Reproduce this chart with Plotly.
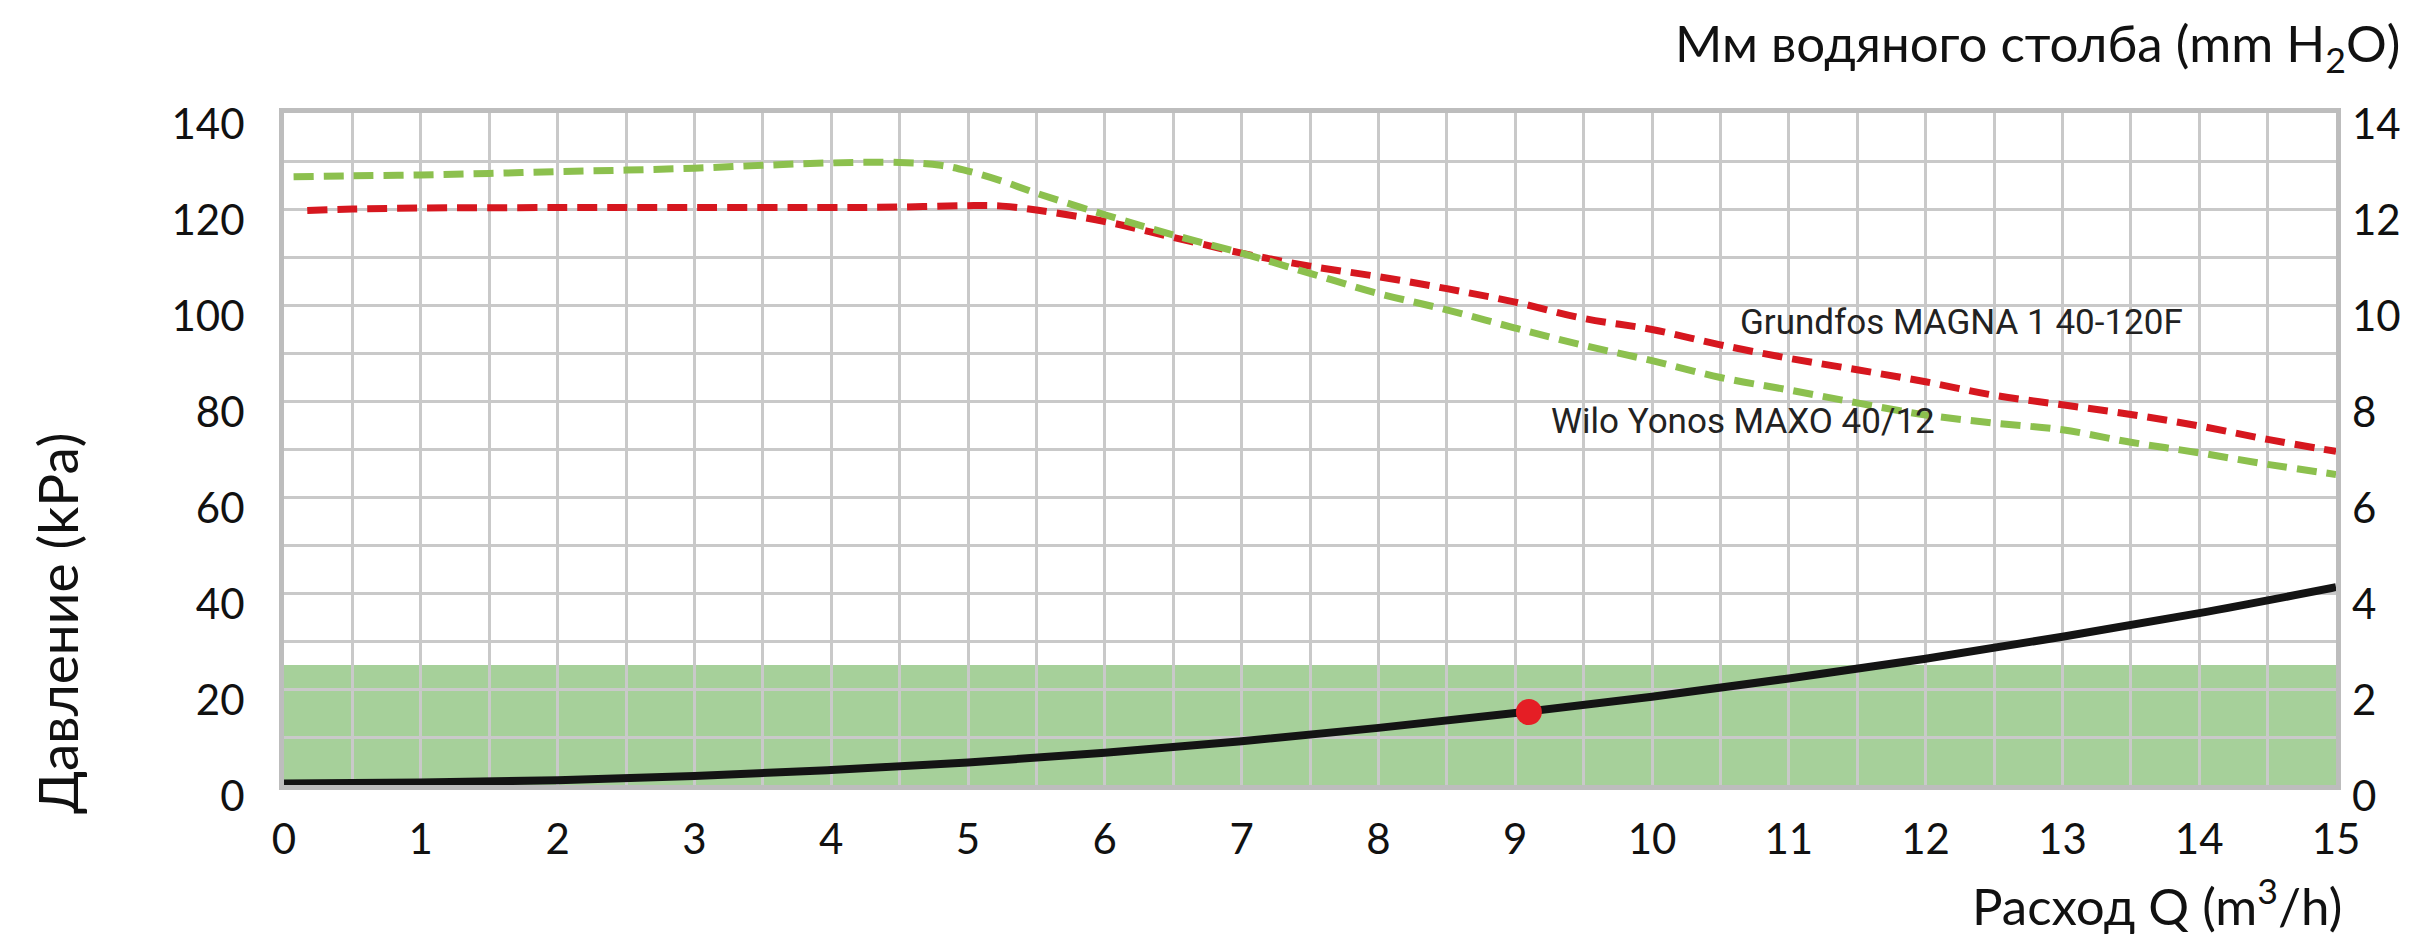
import plotly.graph_objects as go

# ---------------- data ----------------
flow_ticks = list(range(0, 16))
kpa_ticks = [0, 20, 40, 60, 80, 100, 120, 140]
mm_ticks = [0, 2, 4, 6, 8, 10, 12, 14]

flow_wilo = [0.07, 0.5, 1.0, 1.5, 2.0, 2.5, 3.0, 3.5, 4.0, 4.5, 4.8, 5.0, 5.25, 5.5,
             6.0, 6.5, 7.0, 7.5, 8.0, 8.5, 9.0, 9.5, 10.0, 10.5, 11.0, 11.5, 12.0,
             12.5, 13.0, 13.5, 14.0, 14.5, 15.0]
head_wilo = [126.7, 126.9, 127.1, 127.4, 127.8, 128.1, 128.5, 129.1, 129.6, 129.7, 129.1,
             127.9, 125.8, 123.3, 118.8, 114.6, 110.8, 106.6, 102.4, 99.0, 95.2, 91.6,
             88.4, 84.9, 82.3, 79.6, 77.1, 75.4, 74.0, 71.4, 69.2, 66.8, 64.7]

flow_grundfos = [0.17, 0.5, 1.0, 2.0, 3.0, 4.0, 4.5, 5.0, 5.25, 5.5, 6.0, 6.5, 7.0, 7.5,
                 8.0, 8.5, 9.0, 9.5, 10.0, 10.5, 11.0, 11.5, 12.0, 12.5, 13.0, 13.5,
                 14.0, 14.5, 15.0]
head_grundfos = [119.7, 120.0, 120.2, 120.3, 120.3, 120.3, 120.4, 120.7, 120.6, 119.8,
                 117.4, 114.1, 110.8, 108.1, 105.9, 103.4, 100.6, 97.2, 94.9, 91.7, 88.9,
                 86.5, 84.0, 81.2, 79.2, 77.2, 74.8, 72.0, 69.5]

flow_system = [0, 1, 2, 3, 4, 5, 6, 7, 8, 9, 10, 11, 12, 13, 14, 15]
head_system = [0.3, 0.5, 1.0, 1.9, 3.1, 4.7, 6.7, 9.1, 11.9, 15.0, 18.4, 22.2, 26.3,
               30.9, 35.8, 41.2]

operating_flow = [9.1]
operating_head = [15.2]

comfort_zone = [0, 25]  # kPa band
flow_range = [0, 15]
kpa_range = [0, 140]
mm_range = [0, 14]

label_grundfos = "Grundfos MAGNA 1 40-120F"
label_wilo = "Wilo Yonos MAXO 40/12"

# ---------------- layout geometry (page pixels) ----------------
OFF = 8                      # default body margin of the html page
PAGE_W, PAGE_H = 2412, 944
FIG_W, FIG_H = PAGE_W - OFF, PAGE_H - OFF
PLOT_L, PLOT_R, PLOT_T, PLOT_B = 284, 2336, 113, 785   # plot area in page pixels
ML = PLOT_L - OFF
MT = PLOT_T - OFF
MR = PAGE_W - PLOT_R
MB = PAGE_H - PLOT_B
PW = PLOT_R - PLOT_L
PH = PLOT_B - PLOT_T


def px(xpage):
    return (xpage - PLOT_L) / PW


def py(ypage):
    return (PLOT_B - ypage) / PH


# ---------------- styles ----------------
FONT = "Lato"
NARROW = "Roboto"
GRID = "#c9c9c9"
FRAME = "#bdbdbd"
RED = "#d6171f"
GREEN = "#8cc04e"
BAND = "#a6d09a"
TXT = "#111111"

fig = go.Figure()

fig.add_shape(type="rect", xref="x", yref="y", layer="below",
              x0=flow_range[0], x1=flow_range[1], y0=comfort_zone[0], y1=comfort_zone[1],
              fillcolor=BAND, line=dict(width=0))

fig.add_trace(go.Scatter(x=flow_system, y=head_system, mode="lines",
                         line=dict(color="#141414", width=8, shape="spline"),
                         showlegend=False, hoverinfo="skip"))
fig.add_trace(go.Scatter(x=flow_grundfos, y=head_grundfos, mode="lines",
                         line=dict(color=RED, width=7, dash="20px,10px", shape="spline"),
                         showlegend=False))
fig.add_trace(go.Scatter(x=flow_wilo, y=head_wilo, mode="lines",
                         line=dict(color=GREEN, width=7, dash="20px,10px", shape="spline"),
                         showlegend=False))
fig.add_trace(go.Scatter(x=operating_flow, y=operating_head, mode="markers",
                         marker=dict(color="#e51e25", size=26, line=dict(width=0)),
                         showlegend=False))
# invisible trace on the secondary axis (mm H2O)
fig.add_trace(go.Scatter(x=[None], y=[None], yaxis="y2", showlegend=False))

fig.update_layout(
    width=FIG_W, height=FIG_H,
    margin=dict(l=ML, r=MR, t=MT, b=MB, autoexpand=False),
    paper_bgcolor="white", plot_bgcolor="white",
    font=dict(family=FONT, size=42, color=TXT),
    xaxis=dict(range=flow_range, tickvals=flow_ticks, showgrid=True, gridcolor=GRID,
               gridwidth=3, minor=dict(dtick=0.5, showgrid=True, gridcolor=GRID, gridwidth=3),
               showline=True, linecolor=FRAME, linewidth=5, mirror=True, automargin=False,
               ticks="", zeroline=False, ticklabelstandoff=14,
               tickfont=dict(family=FONT, size=42, color=TXT)),
    yaxis=dict(range=kpa_range, tickvals=kpa_ticks, showgrid=True, gridcolor=GRID,
               gridwidth=3, minor=dict(dtick=10, showgrid=True, gridcolor=GRID, gridwidth=3),
               showline=True, linecolor=FRAME, linewidth=5, mirror=True, automargin=False,
               ticks="", zeroline=False, ticklabelshift=11, ticklabelstandoff=26,
               tickfont=dict(family=FONT, size=42, color=TXT)),
    yaxis2=dict(range=mm_range, tickvals=mm_ticks, overlaying="y", side="right",
                showgrid=False, zeroline=False, showline=False, ticks="", automargin=False,
                ticklabelshift=11, ticklabelstandoff=15,
                tickfont=dict(family=FONT, size=42, color=TXT)),
)

fig.add_annotation(text="Давление (kPa)", textangle=-90, xref="paper", yref="paper",
                   x=px(57), y=py(624), xanchor="center", yanchor="middle",
                   showarrow=False, font=dict(family=FONT, size=55, color=TXT))
fig.add_annotation(text="Расход Q (m<sup>3</sup>/h)", xref="paper", yref="paper",
                   x=px(2344), y=py(938), xanchor="right", yanchor="bottom",
                   showarrow=False, font=dict(family=FONT, size=51, color=TXT))
fig.add_annotation(text="Мм водяного столба (mm H<sub>2</sub>O)", xref="paper", yref="paper",
                   x=px(2402), y=py(10), xanchor="right", yanchor="top",
                   showarrow=False, font=dict(family=FONT, size=51, color=TXT))
fig.add_annotation(text=label_grundfos, xref="paper", yref="paper",
                   x=px(1738), y=py(322), xanchor="left", yanchor="middle",
                   showarrow=False, font=dict(family=NARROW, size=35, color="#222222"))
fig.add_annotation(text=label_wilo, xref="paper", yref="paper",
                   x=px(1549), y=py(421), xanchor="left", yanchor="middle",
                   showarrow=False, font=dict(family=NARROW, size=35, color="#222222"))

fig.write_html("out.html")
